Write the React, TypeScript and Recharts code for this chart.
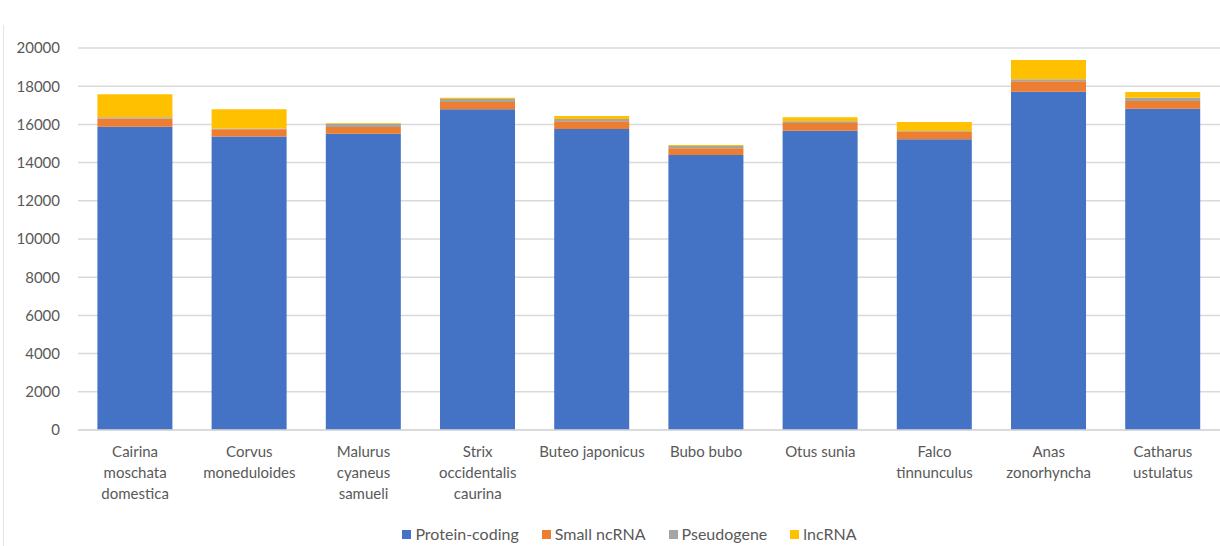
import React from 'react';
import { BarChart, Bar, XAxis, YAxis, CartesianGrid, Legend, Text } from 'recharts';

const species = [
  'Cairina moschata domestica',
  'Corvus moneduloides',
  'Malurus cyaneus samueli',
  'Strix occidentalis caurina',
  'Buteo japonicus',
  'Bubo bubo',
  'Otus sunia',
  'Falco tinnunculus',
  'Anas zonorhyncha',
  'Catharus ustulatus'
];

// how Excel wrapped the category labels
const labelLines = [
  ['Cairina', 'moschata', 'domestica'],
  ['Corvus', 'moneduloides'],
  ['Malurus', 'cyaneus', 'samueli'],
  ['Strix', 'occidentalis', 'caurina'],
  ['Buteo japonicus'],
  ['Bubo bubo'],
  ['Otus sunia'],
  ['Falco', 'tinnunculus'],
  ['Anas', 'zonorhyncha'],
  ['Catharus', 'ustulatus']
];

const proteinCoding = [15880, 15360, 15510, 16790, 15760, 14400, 15670, 15220, 17710, 16820];
const smallNcRNA = [430, 390, 350, 380, 400, 350, 400, 400, 545, 400];
const pseudogene = [70, 30, 170, 160, 120, 120, 100, 30, 105, 175];
const lncRNA = [1200, 1010, 40, 70, 160, 50, 210, 480, 1010, 300];

const yTicks = [0, 2000, 4000, 6000, 8000, 10000, 12000, 14000, 16000, 18000, 20000];

const series = [
  { key: 'protein', name: 'Protein-coding', color: '#4472C4' },
  { key: 'small', name: 'Small ncRNA', color: '#ED7D31' },
  { key: 'pseudo', name: 'Pseudogene', color: '#A5A5A5' },
  { key: 'lnc', name: 'lncRNA', color: '#FFC000' }
];

const data = species.map((name, i) => ({
  name,
  protein: proteinCoding[i],
  small: smallNcRNA[i],
  pseudo: pseudogene[i],
  lnc: lncRNA[i]
}));

const FONT = 'Lato, "Liberation Sans", sans-serif';
const TEXT_COLOR = '#595959';

const CategoryTick = (props: any) => {
  const { x, y, index } = props;
  const lines = labelLines[index] || [props.payload.value];
  return (
    <g transform={`translate(${x},${y})`}>
      {lines.map((line, i) => (
        <Text
          key={i}
          x={0}
          y={8 + i * 21}
          textAnchor="middle"
          verticalAnchor="start"
          fill={TEXT_COLOR}
          fontSize={15}
          fontFamily={FONT}
        >
          {line}
        </Text>
      ))}
    </g>
  );
};

const LegendContent = () => (
  <div
    style={{
      display: 'flex',
      justifyContent: 'center',
      gap: 23,
      fontFamily: FONT,
      fontSize: 16,
      lineHeight: '20px',
      color: TEXT_COLOR,
      paddingLeft: 39,
      paddingTop: 10
    }}
  >
    {series.map((s) => (
      <div key={s.key} style={{ display: 'flex', alignItems: 'center' }}>
        <span style={{ width: 9, height: 9, background: s.color, marginRight: 4, display: 'inline-block' }} />
        <span>{s.name}</span>
      </div>
    ))}
  </div>
);

export default function App() {
  return (
    <div style={{ position: 'absolute', left: 0, top: 0, width: 1220, height: 546, background: '#fff' }}>
      <div style={{ position: 'absolute', left: 3, top: 25, width: 1, height: 521, background: '#e4e4e4' }} />
      <BarChart
        width={1220}
        height={546}
        data={data}
        margin={{ top: 48, right: 0, left: 0, bottom: 0 }}
        barCategoryGap="17%"
      >
        <CartesianGrid vertical={false} stroke="#d9d9d9" strokeWidth={1.5} />
        <XAxis
          dataKey="name"
          tick={<CategoryTick />}
          tickLine={false}
          axisLine={{ stroke: '#d9d9d9', strokeWidth: 1.5 }}
          interval={0}
          height={84}
        />
        <YAxis
          domain={[0, 20000]}
          ticks={yTicks}
          width={78}
          axisLine={false}
          tickLine={false}
          tickSize={0}
          tickMargin={18}
          tick={{ fill: TEXT_COLOR, fontSize: 15, fontFamily: FONT }}
        />
        <Legend verticalAlign="bottom" height={32} content={<LegendContent />} />
        {series.map((s) => (
          <Bar key={s.key} dataKey={s.key} name={s.name} stackId="a" fill={s.color} isAnimationActive={false} />
        ))}
      </BarChart>
    </div>
  );
}
